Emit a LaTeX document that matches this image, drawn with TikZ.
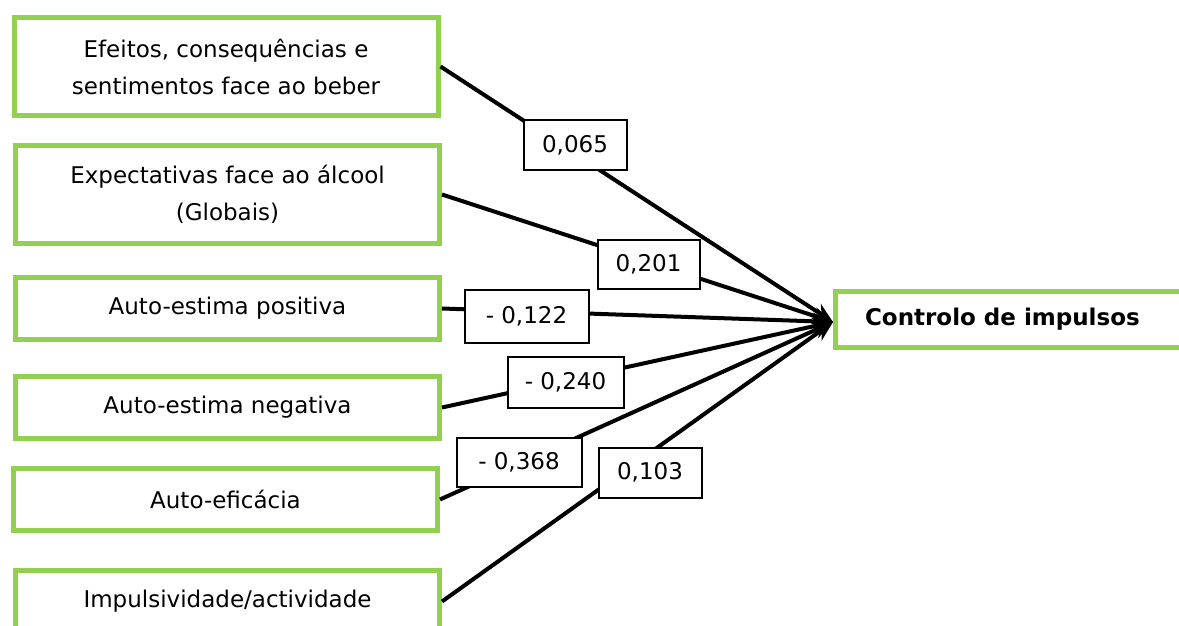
\documentclass[tikz,border=0pt]{standalone}
\usepackage{fontspec}
\setmainfont{DejaVu Sans}
\usepackage{xcolor}
\usetikzlibrary{arrows.meta, positioning, calc}

\definecolor{boxgreen}{HTML}{92D050}

\tikzset{
  factor/.style={draw=boxgreen, line width=2.5pt, fill=white, align=center,
    inner sep=0pt, minimum width=212pt, font=\fontsize{11.5}{18.5}\selectfont},
  weight/.style={draw=black, line width=1pt, fill=white, inner sep=0pt,
    font=\fontsize{11.5}{14}\selectfont},
  effect/.style={line width=2pt, -{Stealth[length=10pt, width=8.5pt]}}
}

\begin{document}
\begin{tikzpicture}[x=0.5pt, y=-0.5pt]
  % Page
  \useasboundingbox (0,0) rectangle (1179,626);
  \fill[white] (0,0) rectangle (1179,626);

  % Predictors
  \node[factor, minimum height=49pt] (efeitos) at (226,66.5)
    {Efeitos, consequências e\\sentimentos face ao beber};
  \node[factor, minimum height=49pt] (expect) at (227.5,194.5)
    {Expectativas face ao álcool\\(Globais)};
  \node[factor, minimum height=31pt] (estpos) at (227.5,308.5) {Auto-estima positiva};
  \node[factor, minimum height=31pt] (estneg) at (227.5,407.5) {Auto-estima negativa};
  \node[factor, minimum height=31pt] (eficacia) at (225.5,499.5) {Auto-eficácia};
  \node[factor, minimum height=31pt] (impuls) at (227.5,601.5) {Impulsividade/actividade};

  % Outcome
  \node[factor, minimum width=181pt, minimum height=28pt] (controlo) at (1016.5,319) {};
  \node[anchor=west, font=\fontsize{11.5}{14}\selectfont\bfseries] at (858,319) {Controlo de impulsos};
  \coordinate (tip) at (833,322);

  % Paths
  \draw[effect] (efeitos.east) -- (tip);
  \draw[effect] (expect.east) -- (tip);
  \draw[effect] (estpos.east) -- (tip);
  \draw[effect] (estneg.east) -- (tip);
  \draw[effect] (eficacia.east) -- (tip);
  \draw[effect] (impuls.east) -- (tip);

  % Coefficients
  \node[weight, minimum width=51.5pt, minimum height=25pt] (w1) at (575,145.5) {0,065};
  \node[weight, minimum width=51pt, minimum height=24.5pt] (w2) at (648.5,264) {0,201};
  \node[weight, minimum width=62pt, minimum height=26.5pt] (w3) at (526.5,316) {- 0,122};
  \node[weight, minimum width=58pt, minimum height=25.5pt] (w4) at (565.5,382) {- 0,240};
  \node[weight, minimum width=62.5pt, minimum height=24.5pt] (w5) at (519,462) {- 0,368};
  \node[weight, minimum width=51.5pt, minimum height=25pt] (w6) at (650,472.5) {0,103};
\end{tikzpicture}
\end{document}
